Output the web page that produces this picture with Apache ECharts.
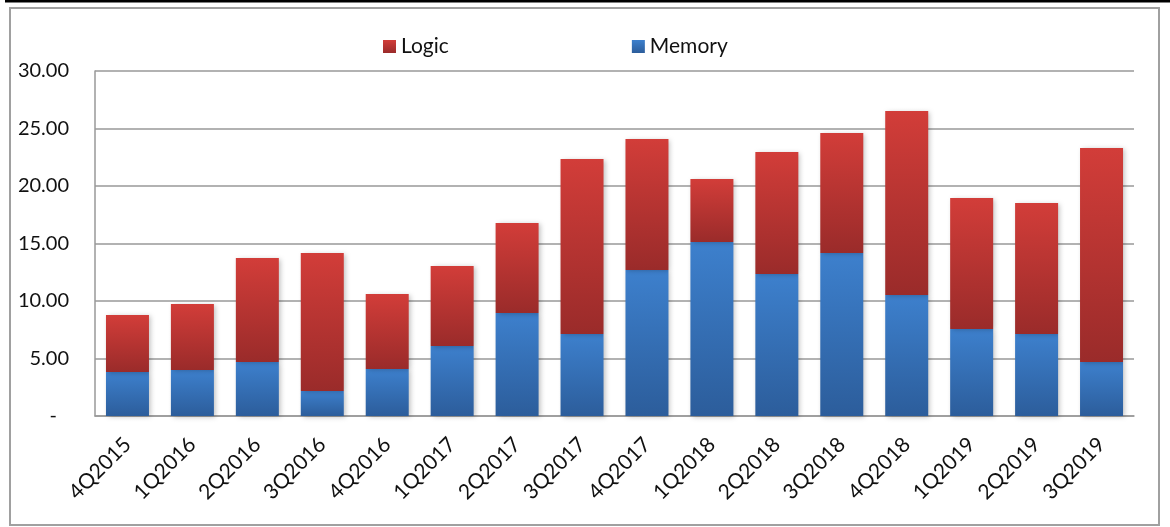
<!DOCTYPE html>
<html>
<head>
<meta charset="utf-8">
<style>
html,body{margin:0;padding:0;background:#fff;}
#c{width:1170px;height:527px;}
</style>
<script src="https://cdn.jsdelivr.net/npm/echarts@6/dist/echarts.min.js"></script>
</head>
<body>
<div id="c"></div>
<script>
const categories = ['4Q2015','1Q2016','2Q2016','3Q2016','4Q2016','1Q2017','2Q2017','3Q2017','4Q2017','1Q2018','2Q2018','3Q2018','4Q2018','1Q2019','2Q2019','3Q2019'];
const memory = [3.83, 4.00, 4.70, 2.17, 4.09, 6.09, 8.96, 7.13, 12.70, 15.13, 12.35, 14.17, 10.52, 7.57, 7.13, 4.70];
const logic  = [4.95, 5.74, 9.04, 12.00, 6.52, 6.95, 7.82, 15.22, 11.39, 5.48, 10.61, 10.43, 16.00, 11.39, 11.39, 18.60];
const yTicks = [0, 5, 10, 15, 20, 25, 30];

const FONT = 'Lato';
const redGrad = new echarts.graphic.LinearGradient(0,0,0,1,[{offset:0,color:'#D23D39'},{offset:1,color:'#9A2B2A'}]);
const blueGrad = new echarts.graphic.LinearGradient(0,0,0,1,[{offset:0,color:'#3D80CD'},{offset:1,color:'#2C5D9B'}]);
const shadow = {shadowBlur:5, shadowOffsetX:2, shadowOffsetY:1, shadowColor:'rgba(0,0,0,0.25)'};

const chart = echarts.init(document.getElementById('c'), null, {renderer:'canvas'});
chart.setOption({
  backgroundColor:'#fff',
  animation:false,
  textStyle:{fontFamily:FONT},
  graphic:[
    {type:'line', shape:{x1:5,y1:1,x2:1170,y2:1}, style:{stroke:'#000',lineWidth:3}, z:100},
    {type:'rect', shape:{x:10,y:8,width:1149,height:517}, style:{fill:null,stroke:'#a0a0a0',lineWidth:2}, z:100}
  ],
  legend:{
    data:['Logic','Memory'],
    left:378, top:31,
    itemWidth:13, itemHeight:13, itemGap:183,
    icon:'rect',
    textStyle:{fontFamily:FONT, fontSize:21, color:'#111'}
  },
  grid:{left:95, right:36, top:71, bottom:111, containLabel:false},
  xAxis:{
    type:'category',
    data:categories,
    axisLine:{lineStyle:{color:'#999',width:1.5}},
    axisTick:{show:false},
    axisLabel:{rotate:45, margin:25, fontSize:21, fontFamily:FONT, color:'#111', interval:0}
  },
  yAxis:{
    type:'value',
    min:yTicks[0], max:yTicks[yTicks.length-1], interval:5,
    axisLine:{show:true, lineStyle:{color:'#999',width:1.5}},
    axisTick:{show:false},
    splitLine:{lineStyle:{color:'#999',width:1.5}},
    axisLabel:{
      margin:26, fontSize:20, fontFamily:FONT, color:'#111',
      formatter:function(v){ return v===0 ? '{d|-}' : v.toFixed(2); },
      rich:{d:{fontSize:20, fontFamily:FONT, color:'#111', padding:[0,12,0,0]}}
    }
  },
  series:[
    {name:'Memory', type:'bar', stack:'t', data:memory, barWidth:43,
     itemStyle:Object.assign({color:blueGrad}, shadow)},
    {name:'Logic', type:'bar', stack:'t', data:logic, barWidth:43,
     itemStyle:Object.assign({color:redGrad}, shadow)}
  ]
});
</script>
</body>
</html>
